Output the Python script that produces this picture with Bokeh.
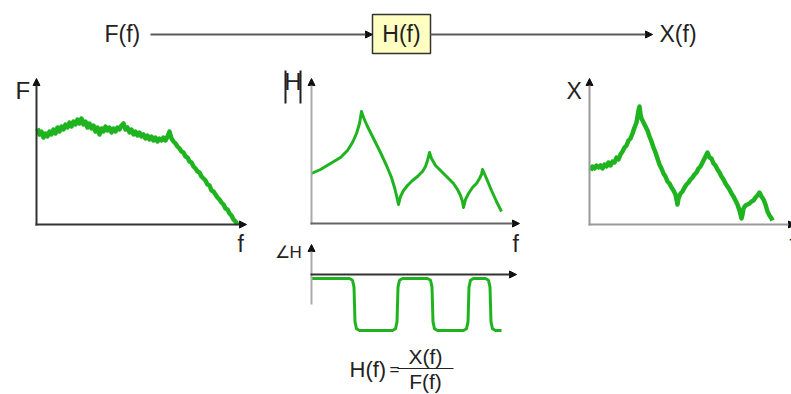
from bokeh.plotting import figure
from bokeh.models import Range1d, Arrow, NormalHead
from bokeh.core.properties import value
from bokeh.embed import file_html
from bokeh.resources import INLINE

W, H = 791, 394

# ---------------- data (panel units: frequency along the axis, amplitude above the axis) -------------
# Excitation spectrum F(f) (noisy)
F_freq = list(range(0, 201, 2))
F_amp = [96, 90, 93, 87, 91, 88, 93, 90, 95, 91,
         97, 93, 98, 95, 100, 97, 102, 98, 103, 100,
         105, 101, 106, 100, 103, 97, 101, 96, 99, 93,
         97, 90, 96, 93, 98, 94, 97, 92, 96, 93,
         97, 95, 99, 101, 95, 97, 92, 95, 90, 93,
         89, 92, 88, 90, 86, 89, 85, 88, 84, 87,
         83, 86, 84, 87, 84, 88, 93, 86, 83, 81,
         78, 76, 73, 72, 68, 67, 63, 62, 58, 56,
         53, 52, 48, 46, 44, 40, 39, 34, 33, 30,
         27, 25, 22, 20, 16, 15, 11, 9, 5, 3,
         0]

# FRF magnitude |H|
H_freq = [0, 9, 19, 29, 36, 41, 45, 48, 50,
          52, 56, 62, 69, 75, 80, 83, 85, 87,
          89, 92, 96, 101, 106, 111, 114, 116, 118,
          120, 124, 130, 136, 142, 146, 149, 151, 152,
          154, 157, 161, 165, 168, 170, 171,
          175, 180, 185, 190]
H_mag = [50, 54, 60, 66, 73, 81, 90, 100, 112,
         106, 97, 85, 71, 58, 46, 36, 28, 19,
         27, 33, 38, 43, 47, 52, 57, 63, 71,
         65, 58, 52, 46, 40, 34, 28, 22, 16,
         24, 30, 36, 40, 45, 49, 54,
         45, 33, 22, 12]

# FRF phase (degrees)
P_freq = [0, 38, 41, 42.5, 43, 43.5, 45, 48,
          81, 84, 85.5, 86, 86.5, 88, 91,
          116, 119, 120.5, 121, 121.5, 123, 126,
          152, 155, 156.5, 157, 157.5, 159, 162,
          174, 177, 178.5, 179, 179.5, 181, 184, 190]
P_deg = [0, 0, -6, -30, -90, -150, -174, -180,
         -180, -174, -150, -90, -30, -6, 0,
         0, -6, -30, -90, -150, -174, -180,
         -180, -174, -150, -90, -30, -6, 0,
         0, -6, -30, -90, -150, -174, -180, -180]

# Response spectrum X(f) (noisy)
X_freq = [1, 3, 5, 7, 9, 11, 13, 15, 17, 19, 21, 23, 25, 27, 29, 31, 33, 35, 37, 39,
          41, 43, 45, 47, 48, 49, 50, 51, 52, 54, 56, 58, 60, 62, 64, 66, 68, 70, 72, 74,
          76, 78, 80, 82, 84, 86, 87, 88, 89, 91, 93, 95, 97, 99, 101, 103, 105, 107, 109, 111,
          113, 115, 117, 118, 120, 122, 124, 126, 128, 130, 132, 134, 136, 138, 140, 142, 144, 146, 148, 150,
          152, 153, 154, 156, 158, 160, 162, 164, 166, 168, 170, 172, 174, 176, 178, 180, 182, 183]
X_amp = [54, 58, 56, 59, 57, 59, 56, 60, 58, 62, 59, 63, 62, 67, 65, 70, 73, 77, 79, 84,
         86, 91, 97, 102, 108, 114, 118, 110, 106, 102, 98, 94, 88, 83, 77, 72, 66, 60, 56, 51,
         48, 43, 41, 37, 34, 30, 25, 20, 26, 31, 33, 37, 40, 42, 45, 47, 50, 52, 56, 58,
         62, 66, 70, 72, 67, 66, 61, 59, 55, 52, 48, 45, 41, 38, 35, 31, 28, 24, 20, 14,
         6, 10, 16, 19, 20, 21, 23, 24, 27, 29, 32, 28, 25, 20, 13, 9, 6, 4]

# ---------------- layout ----------------
GREEN = "#1fb41f"
TXT = "#222222"
FONT = value("Liberation Sans")

p = figure(width=W, height=H, x_range=Range1d(0, W), y_range=Range1d(H, 0),
           output_backend="svg", toolbar_location=None, min_border=0,
           x_axis_location=None, y_axis_location=None)
p.grid.visible = False
p.outline_line_color = None
p.background_fill_color = "white"
p.border_fill_color = "white"


def xr(origin, scale=1.0):
    return Range1d(start=-origin / scale, end=(W - origin) / scale)


def yr(origin_top, scale=1.0):
    return Range1d(start=-(H - origin_top) / scale, end=origin_top / scale)


# panel origins (pixels)
p.extra_x_ranges = {"fx": xr(37), "hx": xr(311), "xx": xr(589)}
p.extra_y_ranges = {"fy": yr(224), "hy": yr(223), "py": yr(278, 52 / 180), "xy": yr(224)}


def arrow(x0, y0, x1, y1, color, width=2.0, head=7):
    p.add_layout(Arrow(end=NormalHead(size=head, fill_color="#111111", line_color="#111111", line_width=1),
                       x_start=x0, y_start=y0, x_end=x1, y_end=y1,
                       line_color=color, line_width=width))


def text(x, y, s, size, align="left", font=FONT):
    p.text(x=[x], y=[y], text=[s], text_font=font, text_font_size=size, text_color=TXT,
           text_align=align, text_baseline="middle")


# top block diagram
arrow(150, 34, 372, 34, "#5a5a5a", 2.2)
arrow(430, 34, 652, 34, "#5a5a5a", 2.2)
p.quad(left=[372], right=[430], top=[14], bottom=[53], fill_color="#ffffc2",
       line_color="#333333", line_width=1.5)
text(104, 33, "F(f)", "23px")
text(401, 33, "H(f)", "23px", align="center")
text(659, 33, "X(f)", "23px")

# F panel
arrow(36, 225, 36, 78, "#333333", 2)
arrow(35, 224, 246, 224, "#333333", 2)
text(15, 90, "F", "24px")
text(237, 243, "f", "23px")
p.line(x=F_freq, y=F_amp, x_range_name="fx", y_range_name="fy",
       line_color=GREEN, line_width=4.5, line_join="round")

# |H| panel
arrow(311, 224, 311, 78, "#aaaaaa", 2)
arrow(310, 223, 519, 223, "#666666", 2)
p.segment(x0=[285, 300], y0=[70, 70], x1=[285, 300], y1=[103, 103], line_color=TXT, line_width=2)
text(292.5, 81, "H", "24px", align="center")
text(512, 243, "f", "23px")
p.line(x=H_freq, y=H_mag, x_range_name="hx", y_range_name="hy",
       line_color=GREEN, line_width=3, line_join="round")

# phase panel
arrow(311, 304, 311, 244, "#aaaaaa", 2)
arrow(310, 274, 516, 274, "#333333", 2)
text(274, 252, "\u2220H", "17px")
p.line(x=P_freq, y=P_deg, x_range_name="hx", y_range_name="py",
       line_color=GREEN, line_width=3, line_join="round")

# formula
text(349, 369, "H(f)", "22px")
text(389, 369, "=", "17px")
p.segment(x0=[397], y0=[368], x1=[453], y1=[368], line_color=TXT, line_width=1.2)
text(425, 356, "X(f)", "21px", align="center")
text(425, 381, "F(f)", "21px", align="center")

# X panel
arrow(589, 225, 589, 78, "#999999", 2)
arrow(588, 224, 795, 224, "#999999", 2)
text(566, 90, "X", "23px")
text(789, 243, "f", "23px")
p.line(x=X_freq, y=X_amp, x_range_name="xx", y_range_name="xy",
       line_color=GREEN, line_width=4.5, line_join="round")

open("out.html", "w").write(file_html(p, INLINE))
